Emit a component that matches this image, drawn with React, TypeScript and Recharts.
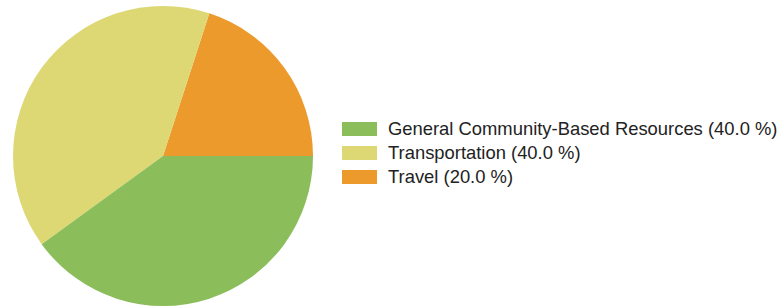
import { PieChart, Pie, Cell } from "recharts";

// slices in drawing order (counterclockwise from 3 o'clock)
const categories = ["Travel", "Transportation", "General Community-Based Resources"];
const values = [20, 40, 40];
const colors = ["#EC9A2B", "#DDD874", "#8CBD5B"];

// legend order as shown in the picture
const legendOrder = [2, 1, 0];

const total = values.reduce((a, b) => a + b, 0);
const data = categories.map((name, i) => ({ name, value: values[i] }));

export default function App() {
  return (
    <div
      style={{
        position: "absolute",
        left: 0,
        top: 0,
        width: 783,
        height: 306,
        background: "#fff",
        fontFamily: "'Liberation Sans', Arial, sans-serif",
      }}
    >
      <PieChart width={330} height={306} margin={{ top: 0, right: 0, bottom: 0, left: 0 }}>
        <Pie
          data={data}
          dataKey="value"
          nameKey="name"
          cx={163}
          cy={156}
          outerRadius={150}
          startAngle={0}
          endAngle={360}
          stroke="none"
          isAnimationActive={false}
        >
          {data.map((d, i) => (
            <Cell key={d.name} fill={colors[i]} />
          ))}
        </Pie>
      </PieChart>
      <div style={{ position: "absolute", left: 342, top: 117 }}>
        {legendOrder.map((i) => (
          <div
            key={categories[i]}
            style={{ display: "flex", alignItems: "center", height: 24 }}
          >
            <div style={{ width: 35, height: 14, background: colors[i], marginRight: 11 }} />
            <span style={{ fontSize: 18.4, color: "#222", whiteSpace: "nowrap" }}>
              {categories[i]} ({((values[i] / total) * 100).toFixed(1)} %)
            </span>
          </div>
        ))}
      </div>
    </div>
  );
}
